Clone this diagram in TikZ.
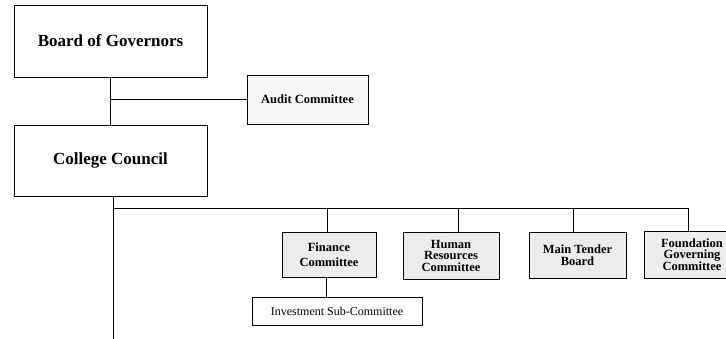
\documentclass[tikz,border=0pt]{standalone}
\usepackage{fontspec}
\setmainfont{Liberation Serif}
\usetikzlibrary{shadows}
\begin{document}
\begin{tikzpicture}[x=1pt,y=-1pt,
  box/.style={draw=black,line width=0.9pt,inner sep=0pt,align=center,font=\bfseries},
  bigbox/.style={box,minimum width=193pt,minimum height=72pt,font=\fontsize{17}{19}\selectfont\bfseries},
  greybox/.style={box,fill=gray!15,font=\fontsize{12.5}{11.5}\selectfont\bfseries,
    drop shadow={shadow xshift=0.9pt,shadow yshift=-0.9pt,fill=black!60,opacity=1}},
  plainbox/.style={draw=black,line width=0.9pt,inner sep=0pt,align=center,font=\fontsize{12}{14}\selectfont},
  conn/.style={draw=black,line width=0.9pt}]
\useasboundingbox (0,0) rectangle (726,339);
\node[bigbox] (board) at (110.5,41) {Board of Governors};
\node[greybox,fill=gray!7,minimum width=121pt,minimum height=49pt] (audit) at (307.5,99.5) {Audit Committee};
\node[bigbox,minimum height=71pt] (council) at (110.5,160.5) {College Council};
\node[greybox,minimum width=94pt,minimum height=45pt,font=\fontsize{12.5}{15}\selectfont\bfseries] (finance) at (329,254.5) {Finance\\Committee};
\node[greybox,minimum width=96pt,minimum height=47pt] (hr) at (451,255.5) {Human\\Resources\\Committee};
\node[greybox,minimum width=97pt,minimum height=46pt] (main) at (577.5,255) {Main Tender\\Board};
\node[greybox,minimum width=96pt,minimum height=47pt] (found) at (692,254.5) {Foundation\\Governing\\Committee};
\node[plainbox,minimum width=170pt,minimum height=28pt] (invest) at (337,311) {Investment Sub-Committee};
\coordinate (auditj) at (110,99.5);
\coordinate (trunk) at (113,208.5);
\coordinate (bottom) at (113,339);
\coordinate (fj) at (327,208.5);
\coordinate (hj) at (458,208.5);
\coordinate (mj) at (573,208.5);
\coordinate (oj) at (688,208.5);
\draw[conn] (board.south -| auditj) -- (council.north -| auditj);
\draw[conn] (auditj) -- (audit.west);
\draw[conn] (council.south -| trunk) -- (bottom);
\draw[conn] (trunk) -- (oj);
\draw[conn] (fj) -- (finance.north -| fj);
\draw[conn] (hj) -- (hr.north -| hj);
\draw[conn] (mj) -- (main.north -| mj);
\draw[conn] (oj) -- (found.north -| oj);
\draw[conn] (finance.south -| 326,0) -- (invest.north -| 326,0);
\end{tikzpicture}
\end{document}
